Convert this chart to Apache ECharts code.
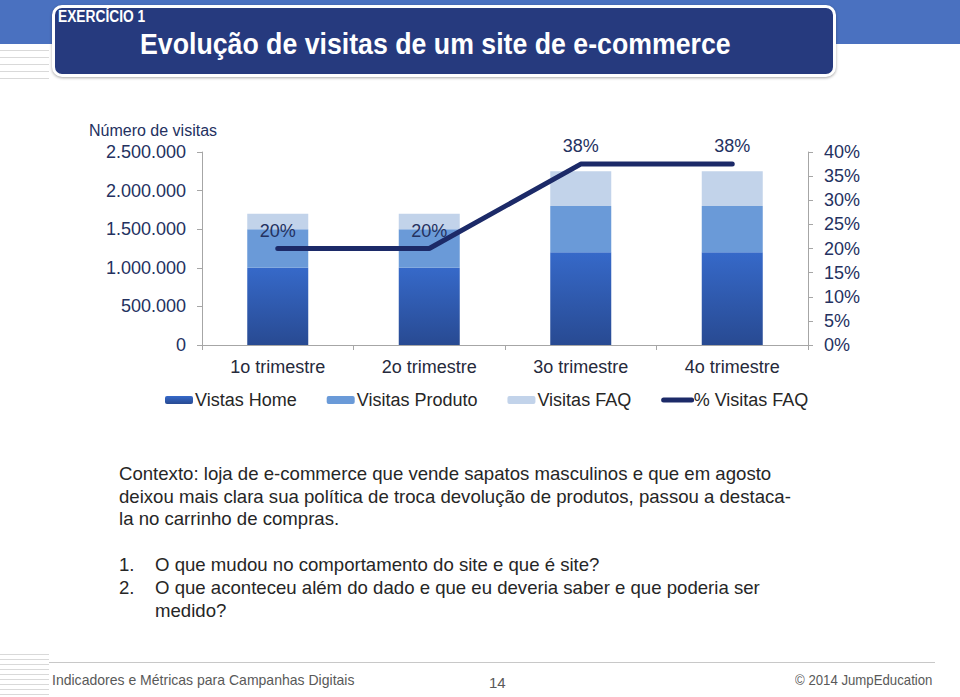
<!DOCTYPE html>
<html>
<head>
<meta charset="utf-8">
<script src="https://cdn.jsdelivr.net/npm/echarts@6/dist/echarts.min.js"></script>
<style>
  html,body{margin:0;padding:0;background:#fff;width:960px;height:697px;overflow:hidden;font-family:"Liberation Sans",Arial,sans-serif;}
  #chart{position:absolute;left:0;top:0;width:960px;height:697px;}
  .abs{position:absolute;white-space:nowrap;}
  #band{left:0;top:0;width:960px;height:44px;background:#4a71c0;}
  #box{left:52px;top:5px;width:778px;height:66px;background:#263a7e;border:3px solid #fff;border-radius:10px;box-shadow:0 1px 3px rgba(0,0,0,0.35);}
  #ex{left:58px;top:8px;color:#fff;font-weight:bold;font-size:16px;transform:scaleX(0.86);transform-origin:0 0;}
  #title{left:140px;top:27px;color:#fff;font-weight:bold;font-size:30px;transform:scaleX(0.89);transform-origin:0 0;}
  #stripesTop{left:0;top:44px;width:49px;height:40px;background:repeating-linear-gradient(to bottom,#fff 0,#fff 6px,#d9d9d9 6px,#d9d9d9 7px);}
  #stripesBot{left:0;top:650px;width:49px;height:47px;background:repeating-linear-gradient(to bottom,#fff 0,#fff 4px,#d9d9d9 4px,#d9d9d9 5px);}
  #footLine{left:49px;top:662px;width:886px;height:1px;background:#c8c8c8;}
  .foot{color:#595959;font-size:15px;top:671px;transform-origin:0 0;}
  .body{color:#262626;font-size:18.6px;left:119px;line-height:22.5px;}
</style>
</head>
<body>
<div id="chart"></div>
<div class="abs" id="band"></div>
<div class="abs" id="box"></div>
<div class="abs" id="ex">EXERCÍCIO 1</div>
<div class="abs" id="title">Evolução de visitas de um site de e-commerce</div>
<div class="abs" id="stripesTop"></div>
<div class="abs" id="stripesBot"></div>
<div class="abs" id="footLine"></div>
<div class="abs foot" style="left:52px;transform:scaleX(0.935);">Indicadores e Métricas para Campanhas Digitais</div>
<div class="abs foot" style="left:489px;top:674px;">14</div>
<div class="abs foot" style="left:795px;transform:scaleX(0.88);">© 2014 JumpEducation</div>
<div class="abs body" style="top:463px;">Contexto: loja de e-commerce que vende sapatos masculinos e que em agosto<br>deixou mais clara sua política de troca devolução de produtos, passou a destaca-<br>la no carrinho de compras.</div>
<div class="abs body" style="top:554px;">1.</div>
<div class="abs body" style="top:554px;left:155px;">O que mudou no comportamento do site e que é site?</div>
<div class="abs body" style="top:577px;">2.</div>
<div class="abs body" style="top:577px;left:155px;">O que aconteceu além do dado e que eu deveria saber e que poderia ser<br>medido?</div>
<script>
const categories = ['1o trimestre', '2o trimestre', '3o trimestre', '4o trimestre'];
const visitasHome = [1000000, 1000000, 1200000, 1200000];
const visitasProduto = [500000, 500000, 600000, 600000];
const visitasFAQ = [200000, 200000, 450000, 450000];
const pctVisitasFAQ = [20, 20, 37.5, 37.5];
const leftTicks = {min: 0, max: 2500000, interval: 500000};
const rightTicks = {min: 0, max: 40, interval: 5};

const navy = '#24315f';
const axisGray = '#a6a6a6';
const lineNavy = '#1c2a68';
const fmtThousands = v => String(v).replace(/\B(?=(\d{3})+(?!\d))/g, '.');

const chart = echarts.init(document.getElementById('chart'), null, {renderer: 'svg'});
chart.setOption({
  animation: false,
  textStyle: {fontFamily: 'Liberation Sans, Arial, sans-serif'},
  title: {
    text: 'Número de visitas', left: 84, top: 117,
    textStyle: {fontSize: 16, fontWeight: 'normal', color: navy}
  },
  legend: {
    left: 160, top: 386, itemWidth: 28, itemHeight: 8, itemGap: 30,
    textStyle: {fontSize: 18, color: '#262626', padding: [0, 0, 0, -3]},
    data: ['Vistas Home', 'Visitas Produto', 'Visitas FAQ',
      {name: '% Visitas FAQ', itemStyle: {opacity: 0}, lineStyle: {width: 5, color: lineNavy, cap: 'round'}}]
  },
  grid: {left: 202, right: 152, top: 152, bottom: 352, containLabel: false},
  xAxis: {
    type: 'category', data: categories,
    axisLine: {lineStyle: {color: axisGray}},
    axisTick: {show: true, length: 5, lineStyle: {color: axisGray}},
    axisLabel: {fontSize: 18, color: '#262a3c', margin: 13}
  },
  yAxis: [{
    type: 'value', min: leftTicks.min, max: leftTicks.max, interval: leftTicks.interval,
    axisLine: {show: true, lineStyle: {color: axisGray}},
    axisTick: {show: true, length: 5, lineStyle: {color: axisGray}},
    splitLine: {show: false},
    axisLabel: {fontSize: 18, color: navy, margin: 16, formatter: fmtThousands}
  }, {
    type: 'value', position: 'right', min: rightTicks.min, max: rightTicks.max, interval: rightTicks.interval,
    axisLine: {show: true, lineStyle: {color: axisGray}},
    axisTick: {show: true, length: 5, lineStyle: {color: axisGray}},
    splitLine: {show: false},
    axisLabel: {fontSize: 18, color: navy, margin: 16, formatter: '{value}%'}
  }],
  series: [{
    name: 'Vistas Home', type: 'bar', stack: 'v', barWidth: 61, data: visitasHome,
    itemStyle: {color: new echarts.graphic.LinearGradient(0, 0, 0, 1, [
      {offset: 0, color: '#3669c9'}, {offset: 1, color: '#284a92'}])}
  }, {
    name: 'Visitas Produto', type: 'bar', stack: 'v', barWidth: 61, data: visitasProduto,
    itemStyle: {color: '#6a9ad8'}
  }, {
    name: 'Visitas FAQ', type: 'bar', stack: 'v', barWidth: 61, data: visitasFAQ,
    itemStyle: {color: '#c2d3ea'}
  }, {
    name: '% Visitas FAQ', type: 'line', yAxisIndex: 1, data: pctVisitasFAQ,
    symbol: 'circle', symbolSize: 2, showSymbol: true,
    itemStyle: {color: lineNavy},
    lineStyle: {width: 5, color: lineNavy, cap: 'round'},
    label: {show: true, position: 'top', distance: 8, fontSize: 18, color: navy,
      formatter: p => Math.round(p.value) + '%'}
  }]
});
</script>
</body>
</html>
